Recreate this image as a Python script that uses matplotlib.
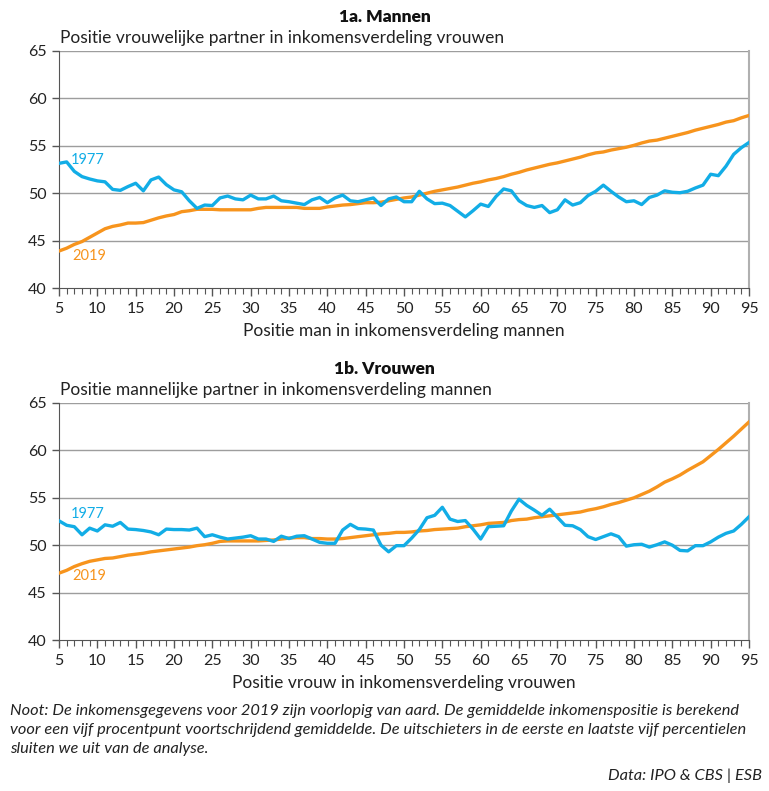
import matplotlib
matplotlib.use("Agg")
import matplotlib.pyplot as plt
from matplotlib.ticker import MultipleLocator

plt.rcParams['font.family'] = ['Lato', 'DejaVu Sans']

x = list(range(5, 96))

m_1977 = [53.15, 53.3, 52.3, 51.75, 51.5, 51.3, 51.2, 50.4, 50.3, 50.7,
          51.05, 50.25, 51.4, 51.7, 50.9, 50.35, 50.15, 49.2, 48.4, 48.75,
          48.7, 49.5, 49.7, 49.4, 49.3, 49.8, 49.4, 49.4, 49.7, 49.2,
          49.1, 48.95, 48.8, 49.3, 49.55, 49.0, 49.5, 49.8, 49.2, 49.1,
          49.3, 49.5, 48.7, 49.4, 49.6, 49.1, 49.1, 50.2, 49.4, 48.9,
          48.95, 48.7, 48.1, 47.5, 48.15, 48.85, 48.6, 49.65, 50.45, 50.25,
          49.2, 48.7, 48.5, 48.7, 47.95, 48.25, 49.3, 48.75, 49.0, 49.75,
          50.2, 50.85, 50.2, 49.6, 49.1, 49.2, 48.8, 49.55, 49.8, 50.25,
          50.1, 50.05, 50.2, 50.55, 50.85, 52.0, 51.85, 52.85, 54.1, 54.8,
          55.35]
m_2019 = [43.9, 44.2, 44.6, 44.9, 45.35, 45.8, 46.25, 46.5, 46.65, 46.85,
          46.85, 46.9, 47.15, 47.4, 47.6, 47.75, 48.05, 48.15, 48.3, 48.3,
          48.3, 48.25, 48.25, 48.25, 48.25, 48.25, 48.4, 48.5, 48.5, 48.5,
          48.5, 48.5, 48.4, 48.4, 48.4, 48.55, 48.65, 48.75, 48.8, 48.9,
          49.0, 49.0, 49.05, 49.2, 49.35, 49.5, 49.6, 49.8, 50.0, 50.2,
          50.35, 50.5, 50.65, 50.85, 51.05, 51.2, 51.4, 51.55, 51.75, 52.0,
          52.2, 52.45, 52.65, 52.85, 53.05, 53.2, 53.4, 53.6, 53.8, 54.05,
          54.25, 54.35, 54.55, 54.7, 54.85, 55.05, 55.3, 55.5, 55.6, 55.8,
          56.0, 56.2, 56.4, 56.65, 56.85, 57.05, 57.25, 57.5, 57.65, 57.95,
          58.2]
v_1977 = [52.57, 52.1, 51.95, 51.1, 51.8, 51.5, 52.15, 52.0, 52.4, 51.7,
          51.65, 51.55, 51.4, 51.1, 51.7, 51.65, 51.65, 51.6, 51.8, 50.9,
          51.1, 50.85, 50.65, 50.75, 50.85, 51.0, 50.65, 50.65, 50.4, 50.95,
          50.7, 50.95, 51.0, 50.65, 50.3, 50.2, 50.2, 51.6, 52.2, 51.75,
          51.7, 51.6, 50.0, 49.3, 49.95, 49.95, 50.75, 51.65, 52.9, 53.15,
          54.0, 52.75, 52.5, 52.6, 51.7, 50.65, 51.95, 52.0, 52.05, 53.6,
          54.85, 54.2, 53.7, 53.15, 53.8, 52.95, 52.1, 52.05, 51.65, 50.9,
          50.6, 50.9, 51.2, 50.9, 49.9, 50.05, 50.1, 49.8, 50.05, 50.35,
          50.0, 49.45, 49.4, 49.95, 49.95, 50.35, 50.85, 51.25, 51.5, 52.2,
          53.0]
v_2019 = [47.05, 47.35, 47.75, 48.05, 48.3, 48.45, 48.6, 48.65, 48.8, 48.95,
          49.05, 49.15, 49.3, 49.4, 49.5, 49.6, 49.7, 49.8, 49.95, 50.05,
          50.2, 50.4, 50.45, 50.45, 50.45, 50.45, 50.45, 50.5, 50.55, 50.65,
          50.75, 50.8, 50.8, 50.7, 50.7, 50.65, 50.65, 50.7, 50.8, 50.9,
          51.0, 51.1, 51.2, 51.25, 51.35, 51.35, 51.4, 51.5, 51.55, 51.65,
          51.7, 51.75, 51.8, 51.95, 52.05, 52.15, 52.3, 52.35, 52.4, 52.6,
          52.7, 52.75, 52.9, 53.0, 53.1, 53.2, 53.3, 53.4, 53.5, 53.7,
          53.85, 54.05, 54.3, 54.5, 54.75, 55.0, 55.35, 55.7, 56.15, 56.65,
          57.0, 57.4, 57.9, 58.35, 58.8, 59.45, 60.1, 60.8, 61.5, 62.25,
          63.0]

titles = ["1a. Mannen", "1b. Vrouwen"]
subtitles = ["Positie vrouwelijke partner in inkomensverdeling vrouwen",
             "Positie mannelijke partner in inkomensverdeling mannen"]
xlabels = ["Positie man in inkomensverdeling mannen",
           "Positie vrouw in inkomensverdeling vrouwen"]
series_labels = ["1977", "2019"]

BLUE = "#12ade6"
ORANGE = "#f7941d"
GRID = "#9d9d9d"
DARK = "#555555"

W, H = 769, 791
fig = plt.figure(figsize=(W / 100, H / 100), dpi=100)


def fx(px):
    return px / W


def fy(py):
    return 1 - py / H


panels = [
    (m_1977, m_2019, 51, 288, (8.7, 53.55), (9.0, 43.4)),
    (v_1977, v_2019, 403, 640, (8.7, 53.3), (9.0, 46.7)),
]

for i, (s77, s19, top, bot, p77, p19) in enumerate(panels):
    ax = fig.add_axes([fx(59), fy(bot), fx(749) - fx(59), (bot - top) / H])
    ax.set_xlim(5, 95)
    ax.set_ylim(40, 65)
    ax.yaxis.set_major_locator(MultipleLocator(5))
    ax.xaxis.set_major_locator(MultipleLocator(5))
    ax.xaxis.set_minor_locator(MultipleLocator(1))
    for yv in range(45, 66, 5):
        ax.axhline(yv, color=GRID, lw=1.0, zorder=1)
    ax.plot(x, s19, color=ORANGE, lw=2.4, zorder=3, solid_joinstyle='round')
    ax.plot(x, s77, color=BLUE, lw=2.4, zorder=4, solid_joinstyle='round')
    ax.text(p77[0], p77[1], series_labels[0], color=BLUE, fontsize=10.5,
            ha='center', va='center')
    ax.text(p19[0], p19[1], series_labels[1], color=ORANGE, fontsize=10.5,
            ha='center', va='center')
    ax.spines['top'].set_visible(False)
    ax.spines['left'].set_color(DARK)
    ax.spines['bottom'].set_color(DARK)
    ax.spines['right'].set_color("#b0b0b0")
    ax.spines['right'].set_linewidth(1.5)
    ax.tick_params(axis='x', which='major', length=6, color=DARK, width=1,
                   labelsize=11.5, pad=4, labelcolor="#222222")
    ax.tick_params(axis='x', which='minor', length=4, color=DARK, width=0.8)
    ax.tick_params(axis='y', which='major', length=5, color=DARK, width=1,
                   labelsize=11.5, pad=4, labelcolor="#222222")
    ax.set_xlabel(xlabels[i], fontsize=12.5, labelpad=5, color="#222222")
    fig.text(0.5, fy(top - 34), titles[i], ha='center', va='center',
             fontsize=12.5, fontweight='heavy', color="#111111")
    fig.text(fx(60), fy(top - 13), subtitles[i], ha='left', va='center',
             fontsize=12.5, color="#222222")

note = ("Noot: De inkomensgegevens voor 2019 zijn voorlopig van aard. De gemiddelde inkomenspositie is berekend\n"
        "voor een vijf procentpunt voortschrijdend gemiddelde. De uitschieters in de eerste en laatste vijf percentielen\n"
        "sluiten we uit van de analyse.")
fig.text(fx(10), fy(704), note, ha='left', va='top', fontsize=11.8,
         style='italic', color="#222222", linespacing=1.45)
fig.text(fx(762), fy(776), "Data: IPO & CBS | ESB", ha='right', va='center',
         fontsize=11.8, style='italic', color="#222222")

fig.savefig("out.png", dpi=100)
